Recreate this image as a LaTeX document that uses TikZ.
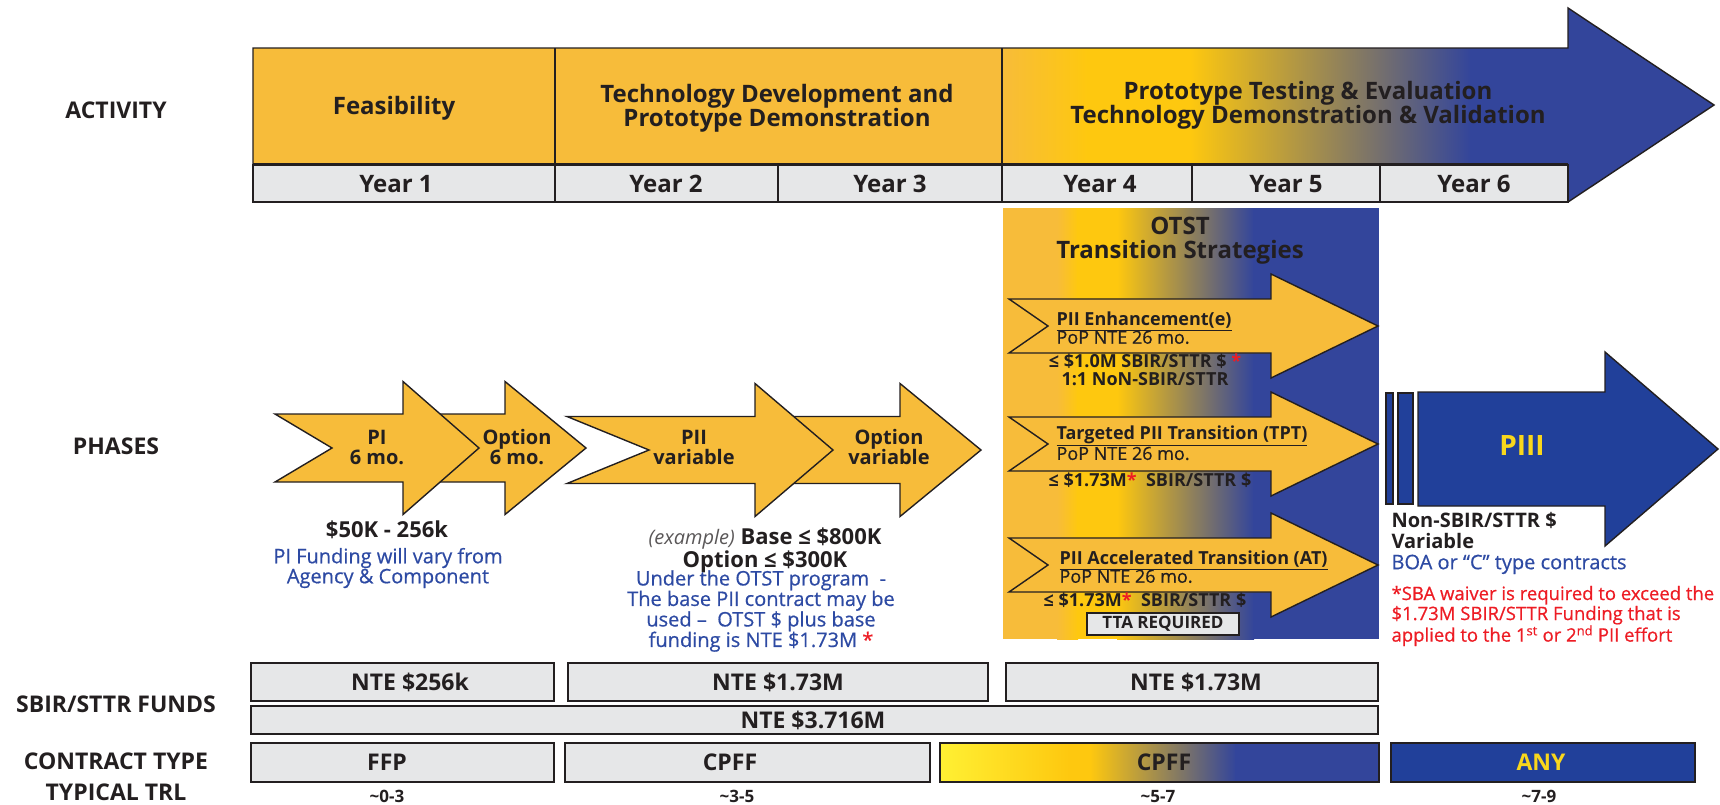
\documentclass[tikz,border=0pt]{standalone}
\usepackage{fontspec}
\setmainfont{Open Sans}
\newfontfamily\semib{Open Sans}[FakeBold=0.6]
\definecolor{orng}{HTML}{F7BC3A}
\definecolor{gold}{HTML}{FEC80F}
\definecolor{lemon}{HTML}{FFF033}
\definecolor{navy}{HTML}{33459B}
\definecolor{deepblue}{HTML}{21409A}
\definecolor{cellgray}{HTML}{E6E7E8}
\definecolor{ink}{HTML}{231F20}
\definecolor{txtblue}{HTML}{2D4AA3}
\definecolor{warnred}{HTML}{ED1C24}
\definecolor{piiiyel}{HTML}{F9D71C}
\newcommand\fsz[2]{\fontsize{#1}{#2}\selectfont}
% notched arrow: style, left, notch, head base, tip, mid y, body half, head half
\newcommand\phasearrow[8]{%
  \draw[#1] (#2,#6-#7) -- (#4,#6-#7) -- (#4,#6-#8) -- (#5,#6) -- (#4,#6+#8)
    -- (#4,#6+#7) -- (#2,#6+#7) -- (#3,#6) -- cycle;}

\begin{document}
\begin{tikzpicture}[x=1pt,y=-1pt,line join=miter,
    edge/.style={draw=ink,line width=1.4pt},
    cell/.style={fill=cellgray,draw=ink,line width=1.3pt},
    arr/.style={fill=orng,draw=ink,line width=1.4pt},
    rowlbl/.style={font=\fsz{23}{27}\bfseries,text=ink},
    head/.style={font=\fsz{24}{24}\bfseries,text=ink,align=center},
    phase/.style={font=\fsz{20}{20}\bfseries,text=ink,align=center},
    strat/.style={font=\fsz{18}{18},text=ink,align=left,anchor=west},
    money/.style={font=\fsz{18}{18}\bfseries,text=ink,align=center},
    boxlbl/.style={font=\fsz{23}{23}\bfseries,text=ink},
    trl/.style={font=\fsz{17}{17}\bfseries,text=ink}]
\useasboundingbox (0,0) rectangle (1720,804);

% activity arrow
\fill[orng] (253,48) rectangle (1002,163);
\begin{scope}
  \clip (1002,48) -- (1568,48) -- (1568,8) -- (1714,105) -- (1568,202) -- (1568,163) -- (1002,163) -- cycle;
  \shade[left color=orng,right color=gold] (1000,0) rectangle (1088,210);
  \fill[gold] (1087,0) rectangle (1191,210);
  \shade[left color=gold,right color=navy] (1190,0) rectangle (1471,210);
  \fill[navy] (1470,0) rectangle (1720,210);
\end{scope}
\foreach \xa/\xb in {253/555,555/778,778/1002,1002/1192,1192/1380,1380/1568}
  \draw[cell] (\xa,165) rectangle (\xb,202);
\draw[edge] (253,48) -- (1568,48) -- (1568,8) -- (1714,105) -- (1568,202) -- (253,202) -- cycle;
\draw[edge] (555,48) -- (555,165) (1002,48) -- (1002,165);
\draw[ink,line width=2pt] (253,164) -- (1568,164);
\foreach \xc [count=\i] in {396,666,890,1100,1286,1474}
  \node[head] (yr\i) at (\xc,184) {Year \i};

\node[rowlbl] (activity) at (116,110) {ACTIVITY};
\node[head] (feas) at (394,108) {Feasibility};
\node[head] (techdev) at (777,108) {Technology Development and\\Prototype Demonstration};
\node[head] (proto) at (1308,105.5) {Prototype Testing \& Evaluation\\Technology Demonstration \& Validation};

% phases
\node[rowlbl] (phases) at (116,446) {PHASES};
\phasearrow{arr}{420}{420}{505}{586}{448}{34}{66.5}
\phasearrow{arr}{275}{332}{403}{479}{448}{34}{66.5}
\phasearrow{arr}{780}{780}{900}{981}{450}{33.5}{66.5}
\phasearrow{arr}{567}{649}{755}{833}{450}{33.5}{66.5}
\node[phase] (pi) at (377,447) {PI\\6 mo.};
\node[phase] (opt1) at (517,447) {Option\\6 mo.};
\node[phase] (pii) at (694,447) {PII\\variable};
\node[phase] (opt2) at (889,447) {Option\\variable};

\node[font=\fsz{22}{22}\bfseries,text=ink] (pifund) at (387,530) {\$50K - 256k};
\node[font=\fsz{20}{20}\semib,text=txtblue,align=center] (pinote) at (388,568) {PI Funding will vary from\\Agency \& Component};
\node[font=\fsz{22}{23},text=ink,align=center] (piifund) at (765,550)
  {{\fsz{20}{23}\itshape\color{ink!75}(example)} {\bfseries Base ≤ \$800K}\\{\bfseries Option ≤ \$300K}};
\node[font=\fsz{20}{20.5}\semib,text=txtblue,align=center] (piinote) at (761,611)
  {Under the OTST program~ -\\The base PII contract may be\\used –~ OTST \$ plus base\\funding is NTE \$1.73M {\color{warnred}*}};

% OTST strategies
\fill[orng] (1003,208) rectangle (1058,639);
\shade[left color=orng,right color=gold] (1057,208) rectangle (1078,639);
\fill[gold] (1077,208) rectangle (1118,639);
\shade[left color=gold,right color=navy] (1117,208) rectangle (1254,639);
\fill[navy] (1253,208) rectangle (1379,639);
\node[head] (otst) at (1180,240.5) {OTST\\Transition Strategies};

\phasearrow{arr}{1009}{1048}{1271}{1378}{326}{27}{52}
\phasearrow{arr}{1009}{1048}{1271}{1378}{444}{27}{52}
\phasearrow{arr}{1009}{1048}{1271}{1378}{565}{27}{52}
\node[strat] (enh) at (1053,328) {{\bfseries\underline{PII Enhancement(e)}}\\{\semib PoP NTE 26 mo.}};
\node[money] (enhfund) at (1145,370) {≤ \$1.0M SBIR/STTR \$ {\color{warnred}*}\\1:1 NoN-SBIR/STTR};
\node[strat] (tpt) at (1053,443) {{\bfseries\underline{Targeted PII Transition (TPT)}}\\{\semib PoP NTE 26 mo.}};
\node[money] (tptfund) at (1150,480) {≤ \$1.73M{\color{warnred}*}~ SBIR/STTR \$};
\node[strat] (acc) at (1056,567) {{\bfseries\underline{PII Accelerated Transition (AT)}}\\{\semib PoP NTE 26 mo.}};
\node[money] (accfund) at (1145,600) {≤ \$1.73M{\color{warnred}*}~ SBIR/STTR \$};
\node[draw=ink,fill=cellgray,line width=1.3pt,font=\fsz{17}{17}\bfseries,text=ink,
  minimum width=152pt,minimum height=22pt,inner sep=0pt] (tta) at (1163,624) {TTA REQUIRED};

% phase III
\draw[edge,fill=deepblue] (1386,393) rectangle (1393,504);
\draw[edge,fill=deepblue] (1398,393) rectangle (1413,504);
\draw[edge,fill=deepblue] (1418,392) -- (1605,392) -- (1605,352) -- (1718,449) -- (1605,546) -- (1605,506) -- (1418,506) -- cycle;
\node[font=\fsz{28}{28}\bfseries,text=piiiyel] (piii) at (1522,445) {PIII};
\node[font=\fsz{20}{21},text=ink,align=left,anchor=west] (nonsbir) at (1388,543)
  {{\bfseries Non-SBIR/STTR \$}\\{\bfseries Variable}\\{\semib\color{txtblue}BOA or “C” type contracts}};
\node[font=\fsz{18.5}{20}\semib,text=warnred,align=left,anchor=west] (waiver) at (1388,616)
  {*SBA waiver is required to exceed the\\\$1.73M SBIR/STTR Funding that is\\applied to the 1\textsuperscript{st} or 2\textsuperscript{nd} PII effort};

% funds
\node[rowlbl] (funds) at (116,704) {SBIR/STTR FUNDS};
\draw[cell] (251,663) rectangle (554,701);
\draw[cell] (568,663) rectangle (988,701);
\draw[cell] (1006,663) rectangle (1378,701);
\draw[cell] (251,706) rectangle (1378,734);
\node[boxlbl] (fund1) at (410,682) {NTE \$256k};
\node[boxlbl] (fund2) at (778,682) {NTE \$1.73M};
\node[boxlbl] (fund3) at (1196,682) {NTE \$1.73M};
\node[boxlbl] (fundall) at (813,720) {NTE \$3.716M};

% contract type and TRL
\node[rowlbl] (ctype) at (116,761) {CONTRACT TYPE};
\node[rowlbl] (trllbl) at (116,792) {TYPICAL TRL};
\draw[cell] (251,743) rectangle (554,782);
\draw[cell] (565,743) rectangle (930,782);
\shade[left color=lemon,right color=gold] (940,743) rectangle (1069,782);
\fill[gold] (1068,743) rectangle (1091,782);
\shade[left color=gold,right color=navy] (1090,743) rectangle (1236,782);
\fill[navy] (1235,743) rectangle (1379,782);
\draw[edge] (940,743) rectangle (1379,782);
\draw[edge,fill=deepblue] (1391,743) rectangle (1695,782);
\node[boxlbl] (ffp) at (387,762) {FFP};
\node[boxlbl] (cpff1) at (730,762) {CPFF};
\node[boxlbl] (cpff2) at (1164,762) {CPFF};
\node[boxlbl,text=piiiyel] (any) at (1541,762) {ANY};
\node[trl] (trl1) at (387,796) {\textasciitilde0-3};
\node[trl] (trl2) at (737,796) {\textasciitilde3-5};
\node[trl] (trl3) at (1158,796) {\textasciitilde5-7};
\node[trl] (trl4) at (1539,796) {\textasciitilde7-9};
\end{tikzpicture}
\end{document}
